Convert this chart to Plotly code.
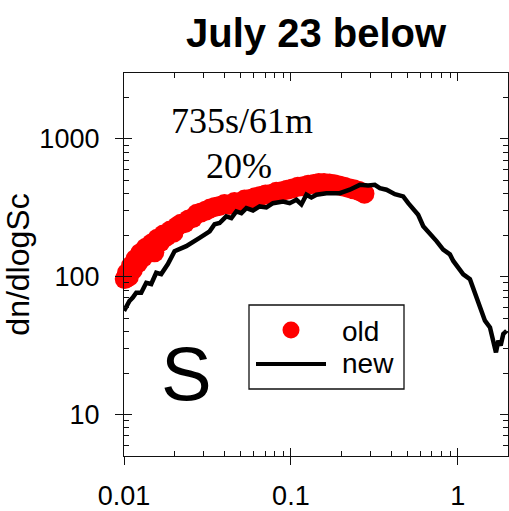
import plotly.graph_objects as go
import math

# ---------------- data ----------------
old_x = [0.0101, 0.0104, 0.0107, 0.0110, 0.0113, 0.0117, 0.0121, 0.0125, 0.0130, 0.0135,
         0.0140, 0.0146, 0.0152, 0.0158, 0.0165, 0.0172, 0.0180, 0.0189, 0.0198, 0.0208,
         0.0219, 0.0231, 0.0244, 0.0258, 0.0273, 0.0290, 0.0308, 0.0328, 0.0350, 0.0374,
         0.0400, 0.0428, 0.0459, 0.0492, 0.0528, 0.0567, 0.0609, 0.0655, 0.0705, 0.0759,
         0.0817, 0.0880, 0.0948, 0.102, 0.110, 0.118, 0.127, 0.137, 0.147, 0.158,
         0.170, 0.182, 0.195, 0.209, 0.223, 0.238, 0.254, 0.266, 0.276]
old_y = [96, 106, 100, 120, 112, 134, 125, 148, 138, 162,
         150, 174, 150, 188, 178, 202, 196, 216, 208, 232,
         242, 244, 260, 266, 286, 292, 300, 312, 320, 326,
         336, 332, 348, 344, 362, 366, 376, 384, 394, 398,
         412, 416, 426, 436, 448, 452, 464, 470, 478, 478,
         474, 468, 458, 448, 438, 430, 420, 410, 400]

new_x = [0.0100, 0.01079, 0.01129, 0.01184, 0.01268, 0.01359, 0.01456, 0.01560, 0.01671, 0.01832,
         0.02009, 0.0236, 0.02838, 0.0326, 0.0349, 0.0374, 0.0410, 0.0440, 0.0471, 0.0505,
         0.0541, 0.0593, 0.0650, 0.0713, 0.0781, 0.0897, 0.0984, 0.108, 0.1156, 0.1239,
         0.1327, 0.1422, 0.1633, 0.1963, 0.2254, 0.2588, 0.2904, 0.3184, 0.3412, 0.374,
         0.420, 0.471, 0.505, 0.541, 0.579, 0.621, 0.681, 0.746, 0.818, 0.897,
         0.940, 1.007, 1.079, 1.183, 1.268, 1.358, 1.455, 1.560, 1.633, 1.694,
         1.750, 1.807, 1.875, 1.963]
new_y = [56.5, 66.7, 70.5, 76.5, 76.5, 90.3, 88.4, 106.7, 104.4, 123.3,
         153, 166.3, 191, 213, 240, 245, 274, 266, 297, 289,
         314, 302, 323, 318, 341, 351, 341, 361, 334, 393,
         375, 393, 403, 403, 427, 463, 458, 463, 438, 427,
         396, 382, 341, 306, 281, 232, 207, 181, 157, 145,
         130, 116, 104, 95.7, 74.5, 59.7, 47.9, 42.8, 34.3, 28.2,
         34.3, 31.6, 38.4, 40.5]

x_major = [0.01, 0.1, 1]
x_major_text = ["0.01", "0.1", "1"]
x_minor = [0.02, 0.03, 0.04, 0.05, 0.06, 0.07, 0.08, 0.09,
           0.2, 0.3, 0.4, 0.5, 0.6, 0.7, 0.8, 0.9, 2]
y_major = [10, 100, 1000]
y_major_text = ["10", "100", "1000"]
y_minor = [6, 7, 8, 9, 20, 30, 40, 50, 60, 70, 80, 90,
           200, 300, 400, 500, 600, 700, 800, 900, 2000, 3000]

x_range = [0.01, 2.0]
y_range = [5, 3000]

# ---------------- layout geometry ----------------
W, H = 509, 511
L, R, T, B = 124, 1, 73, 55
PW, PH = W - L - R, H - T - B


def px(xp):
    return (xp - L) / PW


def py(yp):
    return 1 - (yp - T) / PH


SANS = "Liberation Sans, Arial, sans-serif"
SERIF = "Liberation Serif, Times New Roman, serif"

xr = [math.log10(v) for v in x_range]
yr = [math.log10(v) for v in y_range]

fig = go.Figure()
fig.add_trace(go.Scatter(x=old_x, y=old_y, mode="markers",
                         marker=dict(color="#ff0000", size=20, line=dict(width=0)),
                         cliponaxis=False, showlegend=False, name="old"))
fig.add_trace(go.Scatter(x=new_x, y=new_y, mode="lines",
                         line=dict(color="black", width=4.5),
                         showlegend=False, name="new"))
# helper trace so that the overlay axes are drawn
fig.add_trace(go.Scatter(x=[x_range[0]], y=[y_range[0]], xaxis="x2", yaxis="y2",
                         mode="markers", marker=dict(opacity=0), hoverinfo="skip",
                         showlegend=False))

axis_common = dict(type="log", showgrid=False, zeroline=False,
                   linecolor="#111", linewidth=1.3)

fig.update_layout(
    width=W, height=H,
    margin=dict(l=L, r=R, t=T, b=B),
    paper_bgcolor="white", plot_bgcolor="white",
    font=dict(family=SANS, color="black"),
    xaxis=dict(**axis_common, range=xr, showline=True, mirror=True,
               tickmode="array", tickvals=x_major, ticktext=x_major_text,
               ticks="outside", ticklen=8, tickwidth=1.3, tickcolor="#111",
               tickfont=dict(size=27, family=SANS), ticklabelstandoff=7),
    yaxis=dict(**axis_common, range=yr, showline=True, mirror=True,
               tickmode="array", tickvals=y_major, ticktext=y_major_text,
               ticks="outside", ticklen=8, tickwidth=1.3, tickcolor="#111",
               tickfont=dict(size=27, family=SANS), ticklabelstandoff=10,
               title=dict(text="dn/dlogSc", font=dict(size=32, family=SANS), standoff=8)),
    xaxis2=dict(**axis_common, range=xr, overlaying="x", anchor="y2", side="bottom",
                showline=False, mirror="allticks",
                tickmode="array", tickvals=x_major, ticks="inside", ticklen=8,
                tickwidth=1.3, tickcolor="#111", showticklabels=False,
                minor=dict(tickmode="array", tickvals=x_minor, ticks="inside",
                           ticklen=5, tickwidth=1, tickcolor="#111")),
    yaxis2=dict(**axis_common, range=yr, overlaying="y", anchor="x2", side="left",
                showline=False, mirror="allticks",
                tickmode="array", tickvals=y_major, ticks="inside", ticklen=8,
                tickwidth=1.3, tickcolor="#111", showticklabels=False,
                minor=dict(tickmode="array", tickvals=y_minor, ticks="inside",
                           ticklen=5, tickwidth=1, tickcolor="#111")),
    showlegend=False,
)

annotations = [
    dict(text="<b>July 23 below</b>", x=0.5, y=py(33), xref="paper", yref="paper",
         xanchor="center", yanchor="middle", showarrow=False,
         font=dict(size=40, family=SANS, color="black")),
    dict(text="735s/61m", x=px(242), y=py(121), xref="paper", yref="paper",
         xanchor="center", yanchor="middle", showarrow=False,
         font=dict(size=36, family=SERIF, color="black")),
    dict(text="20%", x=px(239), y=py(166), xref="paper", yref="paper",
         xanchor="center", yanchor="middle", showarrow=False,
         font=dict(size=36, family=SERIF, color="black")),
    dict(text="S", x=px(186), y=py(373), xref="paper", yref="paper",
         xanchor="center", yanchor="middle", showarrow=False,
         font=dict(size=76, family=SANS, color="black")),
    dict(text="old", x=px(340), y=py(331), xref="paper", yref="paper",
         xanchor="left", yanchor="middle", showarrow=False,
         font=dict(size=28, family=SANS, color="black")),
    dict(text="new", x=px(340), y=py(363), xref="paper", yref="paper",
         xanchor="left", yanchor="middle", showarrow=False,
         font=dict(size=28, family=SANS, color="black")),
]
fig.update_layout(annotations=annotations)

shapes = [
    dict(type="rect", xref="paper", yref="paper", x0=px(249), x1=px(404), y0=py(305), y1=py(389),
         line=dict(color="#111", width=1.3), fillcolor="white", layer="above"),
    dict(type="circle", xref="paper", yref="paper", x0=px(282.5), x1=px(299.5),
         y0=py(321.5), y1=py(338.5), line=dict(width=0), fillcolor="#ff0000", layer="above"),
    dict(type="line", xref="paper", yref="paper", x0=px(256), x1=px(326), y0=py(364), y1=py(364),
         line=dict(color="black", width=4), layer="above"),
]
fig.update_layout(shapes=shapes)

fig.write_html("out.html")
